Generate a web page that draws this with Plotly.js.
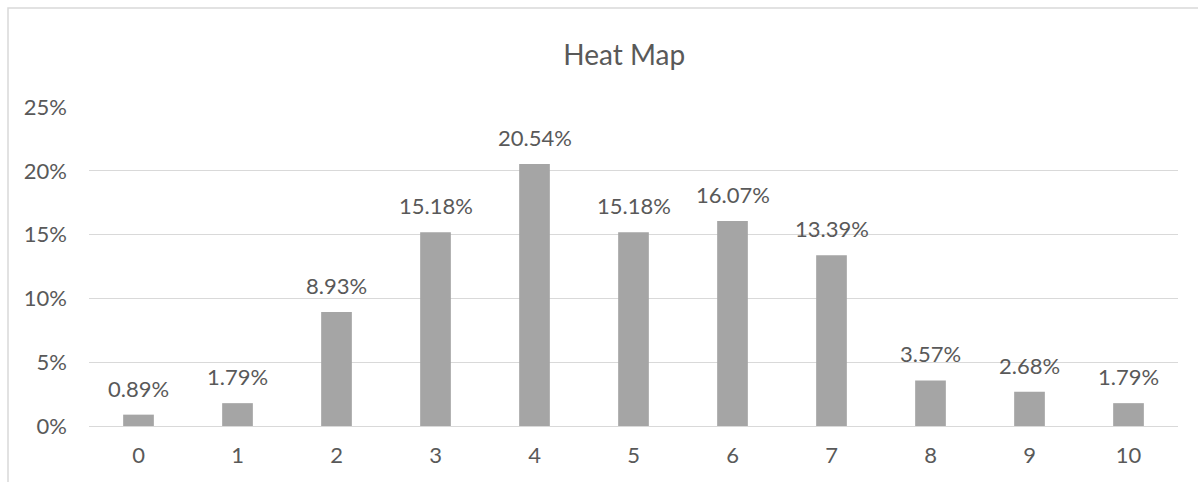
<!DOCTYPE html>
<html>
<head>
<meta charset="utf-8">
<script src="https://cdn.plot.ly/plotly-3.0.1.min.js"></script>
<style>
  html, body { margin: 0; padding: 0; background: #fff; }
  #chart { width: 1198px; height: 482px; }
</style>
</head>
<body>
<div id="chart"></div>
<script>
// Score buckets and share of responses per bucket (percent)
const categories = ['0', '1', '2', '3', '4', '5', '6', '7', '8', '9', '10'];
const shares = [0.89, 1.79, 8.93, 15.18, 20.54, 15.18, 16.07, 13.39, 3.57, 2.68, 1.79];
const yTicks = [0, 5, 10, 15, 20, 25];
const yTickLabels = ['0%', '5%', '10%', '15%', '20%', '25%'];

const fontFamily = 'Lato, Carlito, Calibri, sans-serif';
const textColor = '#595959';

const trace = {
  type: 'bar',
  x: categories,
  y: shares,
  marker: { color: '#a5a5a5' },
  hoverinfo: 'x+y'
};

// Value labels sit a little above each bar
const valueLabels = categories.map((c, i) => ({
  x: c,
  y: shares[i],
  xref: 'x',
  yref: 'y',
  text: shares[i].toFixed(2) + '%',
  showarrow: false,
  yanchor: 'bottom',
  yshift: 11,
  font: { family: fontFamily, size: 22, color: textColor }
}));

const L = 89, R = 20, T = 107, B = 56, W = 1198, H = 482;
const pw = W - L - R, ph = H - T - B;

const layout = {
  width: W,
  height: H,
  margin: { l: L, r: R, t: T, b: B, pad: 0 },
  paper_bgcolor: '#ffffff',
  plot_bgcolor: '#ffffff',
  showlegend: false,
  bargap: 0.69,
  title: {
    text: 'Heat Map',
    font: { family: fontFamily, size: 28, color: textColor },
    xref: 'container',
    x: 0.521,
    xanchor: 'center',
    yref: 'container',
    y: 1 - 55 / H,
    yanchor: 'middle'
  },
  xaxis: {
    type: 'category',
    showgrid: false,
    showline: false,
    zeroline: false,
    ticks: '',
    tickfont: { family: fontFamily, size: 22, color: textColor },
    ticklabelstandoff: 14
  },
  yaxis: {
    range: [0, 25],
    tickvals: yTicks,
    ticktext: yTickLabels,
    showgrid: true,
    gridcolor: '#d9d9d9',
    gridwidth: 1,
    zeroline: true,
    zerolinecolor: '#d9d9d9',
    zerolinewidth: 1,
    showline: false,
    ticks: '',
    tickfont: { family: fontFamily, size: 22, color: textColor },
    ticklabelstandoff: 21
  },
  annotations: valueLabels,
  shapes: [{
    type: 'rect',
    xref: 'paper',
    yref: 'paper',
    x0: (8 - L) / pw,
    x1: 1 + (R + 20) / pw,
    y0: -(B + 20) / ph,
    y1: 1 + (T - 8) / ph,
    line: { color: '#d9d9d9', width: 1.5 },
    fillcolor: 'rgba(0,0,0,0)',
    layer: 'below'
  }]
};

Plotly.newPlot('chart', [trace], layout, { displayModeBar: false, staticPlot: true });
</script>
</body>
</html>
